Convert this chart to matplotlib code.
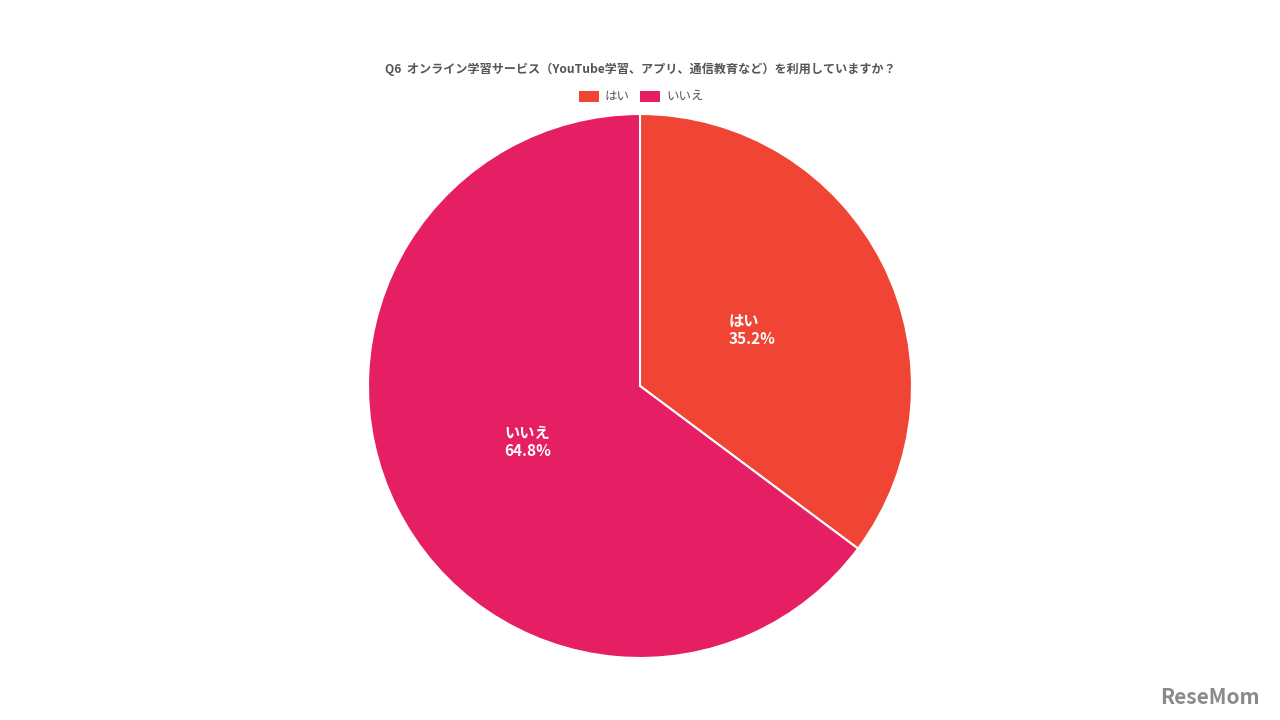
import numpy as np
import matplotlib.pyplot as plt
from matplotlib.patches import Rectangle

plt.rcParams['font.family'] = ['Noto Sans CJK JP', 'DejaVu Sans']

# data
labels = ["はい", "いいえ"]
values = [35.2, 64.8]
colors = ["#F04434", "#E61E63"]
title = "Q6  オンライン学習サービス（YouTube学習、アプリ、通信教育など）を利用していますか？"

fig = plt.figure(figsize=(12.8, 7.2), dpi=100)
fig.patch.set_facecolor("white")

# pie axes: centre (640, 386) px, radius 272 px
ax = fig.add_axes([0.5 - 0.2125, (720 - 386) / 720 - 0.37778, 0.425, 0.75556])
wedges, _ = ax.pie(values, colors=colors, startangle=90, counterclock=False,
                   radius=1.0, wedgeprops=dict(edgecolor="white", linewidth=1.5))
ax.set_xlim(-1, 1)
ax.set_ylim(-1, 1)
ax.set_aspect("equal")
ax.axis("off")

# labels inside the slices
for w, lab, v in zip(wedges, labels, values):
    mid = np.deg2rad((w.theta1 + w.theta2) / 2)
    x, y = 0.46 * np.cos(mid), 0.46 * np.sin(mid)
    ax.text(x, y, f"{lab}\n{v:.1f}%", ha="center", va="center", multialignment="left",
            color="white", fontsize=11, fontweight="bold", linespacing=1.15)

# title
fig.text(0.5, 1 - 69 / 720, title, ha="center", va="center", fontsize=8.7,
         fontweight="bold", color="#555555")

# legend
ly = 1 - 96 / 720
items = [(579, labels[0], colors[0]), (640, labels[1], colors[1])]
for px, lab, c in items:
    fig.patches.append(Rectangle((px / 1280, ly - 5.5 / 720), 20 / 1280, 11 / 720,
                                 transform=fig.transFigure, facecolor=c, edgecolor="none"))
    fig.text((px + 26) / 1280, ly, lab, ha="left", va="center", fontsize=9, color="#555555")

# watermark
fig.text(1 - 20 / 1280, 1 - 697 / 720, "ReseMom", ha="right", va="center",
         fontsize=15, fontweight="bold", color="#8a8a8a")

fig.savefig("out.png", dpi=100, facecolor="white")
